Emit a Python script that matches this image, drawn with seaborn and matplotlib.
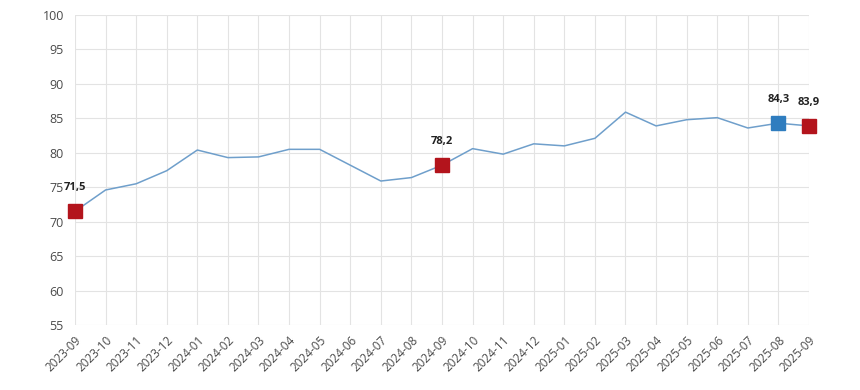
import seaborn as sns
import pandas as pd
import matplotlib.pyplot as plt

# Monthly values
months = ['2023-09', '2023-10', '2023-11', '2023-12', '2024-01', '2024-02', '2024-03',
          '2024-04', '2024-05', '2024-06', '2024-07', '2024-08', '2024-09', '2024-10',
          '2024-11', '2024-12', '2025-01', '2025-02', '2025-03', '2025-04', '2025-05',
          '2025-06', '2025-07', '2025-08', '2025-09']
values = [71.5, 74.6, 75.5, 77.4, 80.4, 79.3, 79.4, 80.5, 80.5, 78.2, 75.9, 76.4, 78.2,
          80.6, 79.8, 81.3, 81.0, 82.1, 85.9, 83.9, 84.8, 85.1, 83.6, 84.3, 83.9]

# highlighted points
red_months = ['2023-09', '2024-09', '2025-09']
blue_months = ['2025-08']

y_ticks = [55, 60, 65, 70, 75, 80, 85, 90, 95, 100]


def main():
    sns.set_style('white')
    plt.rcParams['font.family'] = ['Open Sans', 'DejaVu Sans']

    df = pd.DataFrame({'month': months, 'value': values})
    df['pos'] = range(len(df))

    fig = plt.figure(figsize=(8.6, 3.9), dpi=100)
    ax = fig.add_axes([0.0872, 0.1667, 0.8535, 0.7948])

    sns.lineplot(data=df, x='pos', y='value', color='#6f9fcb', linewidth=1.1, ax=ax)

    red = df[df['month'].isin(red_months)]
    blue = df[df['month'].isin(blue_months)]
    ax.plot(red['pos'], red['value'], 's', color='#b3141c', markersize=10,
            zorder=4, clip_on=False)
    ax.plot(blue['pos'], blue['value'], 's', color='#2f7dbf', markersize=10,
            zorder=4, clip_on=False)

    # value labels above highlighted markers
    for _, row in pd.concat([red, blue]).iterrows():
        lbl = f"{row['value']:.1f}".replace('.', ',')
        ax.annotate(lbl, (row['pos'], row['value']), xytext=(0, 17),
                    textcoords='offset points', ha='center', va='center',
                    fontsize=8, fontweight='bold', color='#222222',
                    annotation_clip=False)

    ax.set_xlim(0, len(df) - 1)
    ax.set_ylim(55, 100)
    ax.set_yticks(y_ticks)
    ax.set_xticks(df['pos'])
    ax.set_xticklabels(df['month'], rotation=45, ha='right', rotation_mode='anchor')

    ax.grid(True, color='#e3e3e3', linewidth=0.8)
    ax.set_axisbelow(True)
    for s in ax.spines.values():
        s.set_visible(False)
    ax.tick_params(axis='x', length=4, color='#d8d8d8', colors='#4a4a4a',
                   labelsize=8.5, pad=2)
    ax.tick_params(axis='y', length=0, colors='#4a4a4a', labelsize=9, pad=8)
    ax.set_xlabel('')
    ax.set_ylabel('')

    plt.savefig('out.png', dpi=100)


if __name__ == '__main__':
    main()
